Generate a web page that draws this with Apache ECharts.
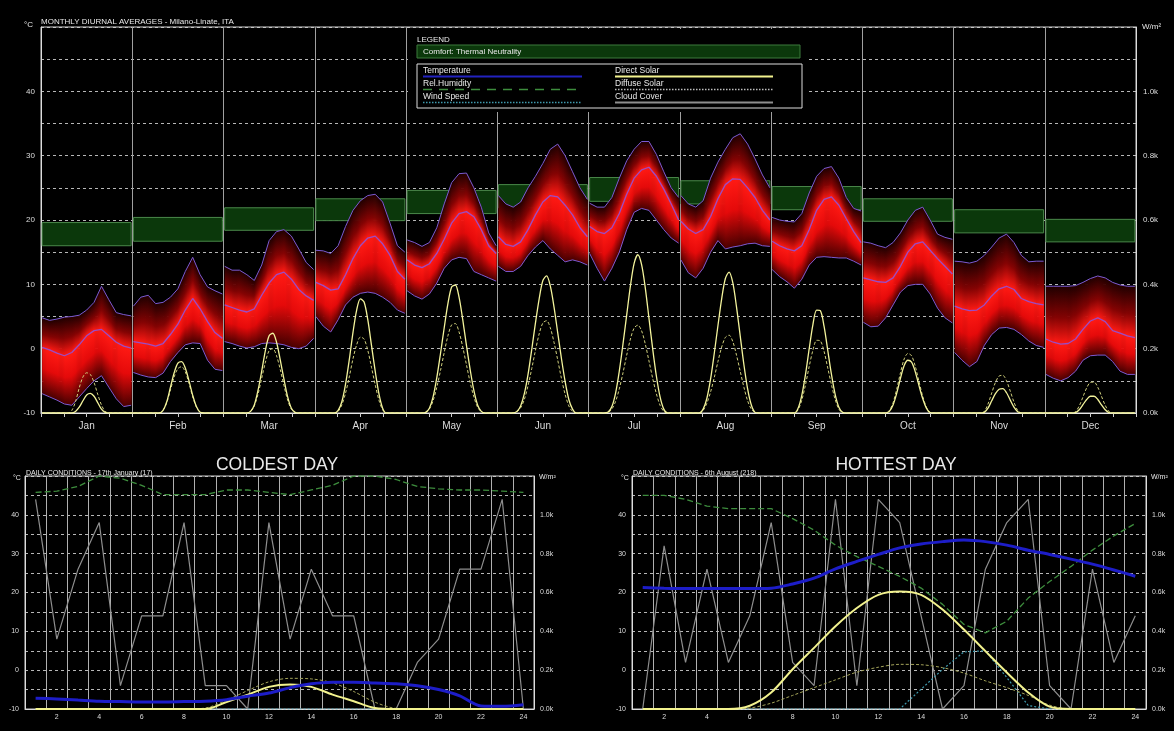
<!DOCTYPE html>
<html>
<head>
<meta charset="utf-8">
<script src="https://cdn.jsdelivr.net/npm/echarts@6/dist/echarts.min.js"></script>
<style>
html, body { margin: 0; padding: 0; background: #000; }
#chart { width: 1174px; height: 731px; }
</style>
</head>
<body>
<div id="chart"></div>
<script>
// monthly diurnal averages, values every 2 hours (0,2,...,24)
var months = ['Jan', 'Feb', 'Mar', 'Apr', 'May', 'Jun', 'Jul', 'Aug', 'Sep', 'Oct', 'Nov', 'Dec'];
var tMax = [
    [4.8, 4.4, 4.6, 4.9, 5.0, 5.2, 6.0, 7.2, 9.7, 7.6, 5.6, 5.3, 5.1],
    [6.6, 8.0, 8.3, 7.0, 7.2, 8.0, 9.3, 12.0, 14.2, 11.5, 9.6, 9.0, 8.5],
    [12.8, 12.2, 12.2, 11.5, 10.6, 13.0, 16.8, 18.2, 18.5, 17.5, 15.5, 13.4, 12.3],
    [15.3, 15.2, 14.8, 16.0, 19.0, 21.5, 23.0, 23.8, 24.0, 22.8, 19.5, 16.0, 15.0],
    [16.9, 16.5, 15.9, 16.5, 18.8, 22.5, 25.8, 27.2, 27.3, 25.0, 22.0, 18.0, 16.0],
    [23.8, 22.5, 22.0, 22.8, 25.0, 26.8, 28.8, 31.0, 31.8, 30.0, 27.5, 25.0, 23.2],
    [22.6, 22.0, 22.0, 23.5, 26.5, 29.2, 31.0, 32.2, 32.2, 30.2, 27.5, 25.0, 23.5],
    [23.8, 22.5, 22.0, 23.0, 26.5, 29.0, 31.0, 32.8, 33.4, 31.8, 29.5, 27.0, 25.0],
    [20.4, 20.0, 19.8, 19.7, 21.0, 24.2, 26.8, 28.0, 28.3, 26.5, 23.5, 21.8, 21.4],
    [16.6, 16.4, 16.0, 15.7, 16.5, 18.0, 20.0, 21.5, 22.0, 20.0, 17.8, 17.3, 17.0],
    [13.6, 13.5, 13.3, 13.6, 14.5, 15.8, 17.2, 17.8, 16.5, 14.5, 13.5, 13.6, 13.6],
    [9.7, 9.7, 9.7, 9.7, 9.8, 10.3, 10.9, 11.3, 11.0, 10.3, 9.9, 9.7, 9.7]
];
var tMean = [
    [0.2, -0.2, -0.7, -1.1, -0.6, 0.6, 2.0, 2.8, 3.0, 2.0, 1.0, 0.4, 0.1],
    [1.1, 0.9, 0.7, 0.4, 0.8, 2.2, 3.8, 6.0, 7.8, 6.2, 4.2, 2.5, 1.6],
    [6.8, 6.4, 6.0, 5.7, 6.2, 8.3, 10.2, 11.5, 11.9, 10.8, 9.2, 8.2, 7.5],
    [10.3, 9.8, 9.1, 9.3, 11.5, 14.0, 16.0, 17.2, 17.5, 16.3, 14.5, 12.0, 10.8],
    [13.8, 13.0, 12.6, 13.2, 14.8, 17.0, 19.5, 21.0, 21.3, 20.5, 18.5, 16.0, 14.8],
    [17.4, 16.2, 15.9, 16.6, 18.5, 20.8, 22.8, 23.8, 23.6, 22.3, 20.8, 18.8, 17.4],
    [19.0, 18.2, 17.9, 18.8, 21.0, 24.0, 26.5, 27.8, 28.2, 26.8, 24.8, 22.5, 20.0],
    [19.8, 18.6, 17.9, 18.5, 20.5, 23.3, 25.5, 26.4, 26.3, 25.0, 23.5, 21.5, 20.0],
    [16.7, 16.0, 15.5, 15.2, 16.0, 18.5, 21.5, 23.2, 23.6, 22.3, 20.2, 18.2, 16.5],
    [11.0, 10.7, 10.4, 10.3, 11.0, 12.8, 15.0, 16.3, 16.6, 15.3, 14.0, 12.8, 11.6],
    [6.6, 6.2, 5.9, 6.0, 6.8, 8.2, 9.3, 9.7, 9.2, 7.8, 7.3, 7.0, 6.8],
    [1.5, 1.0, 0.7, 0.8, 1.5, 3.0, 4.3, 4.8, 4.2, 2.8, 2.4, 2.0, 1.7]
];
var tMin = [
    [-7.0, -7.5, -8.0, -8.6, -8.8, -7.5, -6.2, -5.0, -4.2, -6.0, -7.8, -9.0, -8.8],
    [-3.7, -4.1, -4.4, -4.5, -3.8, -2.0, -0.6, 0.6, 0.9, 0.8, -1.8, -3.2, -3.4],
    [1.1, 0.8, 0.4, 0.1, 0.3, 0.8, 0.9, 0.8, 0.6, 0.2, 0.0, 0.4, 1.6],
    [5.0, 3.5, 2.6, 4.5, 6.8, 8.0, 8.6, 8.8, 8.6, 8.0, 7.2, 6.0, 5.5],
    [9.0, 8.2, 7.7, 8.5, 10.2, 12.5, 13.8, 14.2, 14.0, 12.0, 11.5, 11.0, 10.5],
    [12.8, 12.0, 12.0, 12.8, 14.5, 15.8, 16.8, 15.5, 14.5, 13.5, 13.8, 13.5, 13.0],
    [14.8, 12.5, 10.5, 12.5, 15.0, 18.5, 21.2, 21.8, 21.5, 20.0, 18.5, 17.2, 16.4],
    [13.8, 11.8, 11.0, 12.5, 15.0, 16.8, 15.5, 15.8, 16.0, 16.3, 16.4, 16.0, 15.9],
    [12.3, 11.2, 10.4, 9.4, 10.8, 13.0, 14.2, 14.3, 14.2, 14.1, 14.1, 13.6, 13.0],
    [4.1, 3.4, 3.5, 4.8, 6.8, 8.8, 9.8, 10.0, 10.0, 8.5, 6.3, 4.8, 4.0],
    [-0.6, -1.8, -2.8, -2.0, 0.5, 2.2, 3.2, 3.3, 3.0, 2.2, 1.2, 0.5, 0.2],
    [-4.0, -4.6, -5.0, -4.5, -3.5, -1.8, -1.1, -1.0, -1.0, -2.0, -3.5, -4.0, -4.0]
];
var comfortLow = [16.0, 16.7, 18.4, 19.9, 21.0, 21.9, 22.9, 22.5, 21.6, 19.8, 18.0, 16.6];
var comfortHigh = [19.6, 20.4, 21.9, 23.3, 24.6, 25.5, 26.6, 26.1, 25.2, 23.3, 21.6, 20.1];

// hourly solar radiation (W/m2), hours 0..24
var directSolar = [
    [0,0,0,0,0,0,0,0, 0,5,18,38,56,61,52,32,12,2, 0,0,0,0,0,0,0],
    [0,0,0,0,0,0,0,0, 8,35,80,125,155,160,140,100,55,20,2, 0,0,0,0,0,0],
    [0,0,0,0,0,0,0, 5,25,70,130,195,240,248,220,165,105,50,15,2, 0,0,0,0,0],
    [0,0,0,0,0,0, 8,35,90,165,250,320,355,345,290,210,130,60,15, 0,0,0,0,0,0],
    [0,0,0,0,0, 2,15,50,110,185,265,340,392,398,360,290,210,135,70,25,5, 0,0,0,0],
    [0,0,0,0,0, 5,22,60,120,198,280,355,412,426,395,330,250,170,98,42,12, 0,0,0,0],
    [0,0,0,0,0, 3,20,62,130,215,305,395,465,492,462,390,295,200,115,50,12, 0,0,0,0],
    [0,0,0,0,0,0, 12,45,105,185,272,355,418,438,405,330,240,150,75,25,2, 0,0,0,0],
    [0,0,0,0,0,0,0, 15,55,120,200,275,320,318,270,195,120,58,18,2, 0,0,0,0,0],
    [0,0,0,0,0,0,0, 5,25,62,108,148,164,158,128,85,45,15,1, 0,0,0,0,0,0],
    [0,0,0,0,0,0,0,0, 2,15,38,60,74,76,63,40,18,4, 0,0,0,0,0,0,0],
    [0,0,0,0,0,0,0,0, 1,10,26,42,52,52,42,25,10,1, 0,0,0,0,0,0,0]
];
var diffuseSolar = [
    [0,0,0,0,0,0,0,0, 8,35,78,112,125,120,95,58,25,5, 0,0,0,0,0,0,0],
    [0,0,0,0,0,0,0,0, 8,32,72,112,138,144,128,92,50,18,2, 0,0,0,0,0,0],
    [0,0,0,0,0,0,0, 5,22,58,108,158,194,200,178,135,85,40,12,2, 0,0,0,0,0],
    [0,0,0,0,0,0, 5,25,62,112,168,212,236,230,195,142,88,40,10, 0,0,0,0,0,0],
    [0,0,0,0,0, 2,12,38,80,132,188,240,274,278,252,205,150,95,50,18,4, 0,0,0,0],
    [0,0,0,0,0, 4,16,42,85,138,195,246,280,287,265,220,165,108,58,22,5, 0,0,0,0],
    [0,0,0,0,0, 2,12,36,75,125,180,230,264,273,256,215,162,108,60,24,5, 0,0,0,0],
    [0,0,0,0,0,0, 8,30,65,110,160,205,235,242,222,180,130,80,38,12,2, 0,0,0,0],
    [0,0,0,0,0,0,0, 10,40,88,145,195,226,224,192,140,88,42,12,1, 0,0,0,0,0],
    [0,0,0,0,0,0,0, 8,32,75,125,168,185,178,145,98,52,18,2, 0,0,0,0,0,0],
    [0,0,0,0,0,0,0,0, 5,28,62,95,115,117,100,68,34,8, 0,0,0,0,0,0,0],
    [0,0,0,0,0,0,0,0, 4,22,50,78,95,96,80,52,24,5, 0,0,0,0,0,0,0]
];

// daily conditions, hours 1..24
var dayHours = ['1','2','3','4','5','6','7','8','9','10','11','12','13','14','15','16','17','18','19','20','21','22','23','24'];
var coldTemp = [-7.2, -7.4, -7.7, -8.0, -8.1, -8.2, -8.2, -8.1, -8.0, -7.6, -6.7, -5.9, -4.5, -3.5, -3.1, -3.1, -3.3, -3.5, -4.0, -5.0, -6.6, -9.2, -9.3, -8.9];
var coldHumidity = [93, 93.5, 95.5, 100, 99, 96, 92, 92, 92, 94, 94, 93, 92, 94, 96, 100, 100, 98.5, 95.5, 94.5, 94, 94, 93.5, 93];
var coldWind = [0,0,0,0,0,0,0,0,0,0,0,0,0,0,0,0,0,0,0,0,0,0,0,0];
var coldCloud = [9, 3, 6, 8, 1, 4, 4, 8, 1, 1, 0, 8, 3, 6, 4, 4, 0, 0, 2, 3, 6, 6, 9, 0];
var coldDirect = [0,0,0,0,0,0,0,0,0,36,74,114,126,114,74,40,5,0,0,0,0,0,0,0];
var coldDiffuse = [0,0,0,0,0,0,0,0,5,45,95,140,158,155,135,90,35,3,0,0,0,0,0,0];

var hotTemp = [21.3, 21.1, 21.0, 21.0, 21.0, 21.0, 21.1, 22.2, 23.7, 26.1, 28.0, 29.8, 31.5, 32.5, 33.1, 33.5, 33.1, 32.2, 30.9, 29.8, 28.6, 27.3, 25.8, 24.2];
var hotHumidity = [91.7, 91.7, 90, 87.1, 86, 86, 86, 81.7, 76.8, 70.3, 65.4, 61.2, 56.9, 51.9, 44.9, 36.3, 32.7, 37.7, 47.6, 54.7, 61.2, 68.2, 74.3, 79.6];
var hotWind = [0,0,0,0,0,0,0,0,0,0,0,0,0, 1.7, 3.4, 4.9, 5.0, 2.7, 0.3, 0,0,0,0,0];
var hotCloud = [0, 7, 2, 6, 2, 4, 8, 2, 1, 9, 1, 9, 8, 4, 0, 1, 6, 8, 9, 1, 0, 6, 2, 4];
var hotDirect = [0,0,0,0,0,17,85,205,315,426,520,588,605,588,512,409,298,188,85,12,0,0,0,0];
var hotDiffuse = [0,0,0,0,0,5,30,70,110,150,190,215,230,228,213,185,145,110,70,20,0,0,0,0];

var FONT = '"Liberation Sans", Arial, sans-serif';
var TXT = '#dcdcdc';
var DASH = 'rgba(215,215,215,0.85)';

// month m, hour h -> position on the 0..288 axis (small gap at the month lines)
function hourX(m, h) { return m * 24 + 0.3 + h * 0.975; }

var bandSegs = [], maxPts = [], meanPts = [], minPts = [], comfortData = [];
var directPts = [], diffusePts = [];
months.forEach(function (name, m) {
    for (var i = 0; i < 13; i++) {
        var x = hourX(m, i * 2);
        maxPts.push([x, tMax[m][i]]);
        meanPts.push([x, tMean[m][i]]);
        minPts.push([x, tMin[m][i]]);
        if (i < 12) {
            bandSegs.push([x, hourX(m, i * 2 + 2), tMax[m][i], tMax[m][i + 1],
                tMean[m][i], tMean[m][i + 1], tMin[m][i], tMin[m][i + 1], i]);
        }
    }
    maxPts.push([m * 24 + 24, '-']);
    meanPts.push([m * 24 + 24, '-']);
    minPts.push([m * 24 + 24, '-']);
    comfortData.push([m, comfortLow[m], comfortHigh[m]]);
    for (var h = 0; h <= 24; h++) {
        directPts.push([hourX(m, h), directSolar[m][h]]);
        diffusePts.push([hourX(m, h), diffuseSolar[m][h]]);
    }
});

function lerp(p, q, t) { return p + (q - p) * t; }

// one band segment (between two readings) painted as 1px strips so the
// vertical colour profile follows the min / mean / max edges smoothly
function renderBand(params, api) {
    var a = api.coord([api.value(0), api.value(2)]);
    var b = api.coord([api.value(1), api.value(3)]);
    var c = api.coord([api.value(1), api.value(7)]);
    var d = api.coord([api.value(0), api.value(6)]);
    var m0 = api.coord([api.value(0), api.value(4)]);
    var m1 = api.coord([api.value(1), api.value(5)]);
    var n = Math.max(1, Math.round(b[0] - a[0]));
    var kids = [];
    for (var k = 0; k < n; k++) {
        var t0 = k / n, t1 = (k + 1) / n, tc = (t0 + t1) / 2;
        var x0 = lerp(a[0], b[0], t0), x1 = lerp(a[0], b[0], t1) + 0.6;
        var top = lerp(a[1], b[1], tc), bot = lerp(d[1], c[1], tc), mid = lerp(m0[1], m1[1], tc);
        var r = Math.min(0.95, Math.max(0.05, (mid - top) / (bot - top)));
        var grad = new echarts.graphic.LinearGradient(0, top, 0, bot, [
            { offset: 0, color: '#200000' },
            { offset: r * 0.55, color: '#840303' },
            { offset: r, color: '#ff1a14' },
            { offset: r + (1 - r) * 0.45, color: '#e50a0a' },
            { offset: 1, color: '#480000' }
        ], true);
        kids.push({
            type: 'polygon',
            shape: { points: [
                [x0, lerp(a[1], b[1], t0)], [x1, lerp(a[1], b[1], t1)],
                [x1, lerp(d[1], c[1], t1)], [x0, lerp(d[1], c[1], t0)]
            ] },
            style: { fill: grad }
        });
    }
    return { type: 'group', children: kids };
}

function renderComfort(params, api) {
    var m = api.value(0);
    var p0 = api.coord([m * 24 + 0.3, api.value(2)]);
    var p1 = api.coord([m * 24 + 23.7, api.value(1)]);
    return {
        type: 'rect',
        shape: { x: p0[0], y: p0[1], width: p1[0] - p0[0], height: p1[1] - p0[1] },
        style: { fill: '#0b380b', stroke: '#4a884a', lineWidth: 1 }
    };
}

function tempLabel(v) { return (v % 10 === 0 && v < 50) ? v : ''; }
function solarLabel(v) { return v >= 1200 ? '' : (v / 1000).toFixed(1) + 'k'; }

var xAxes = [
    { gridIndex: 0, type: 'value', min: 0, max: 288, interval: 24, position: 'bottom',
      axisLine: { show: false, onZero: false }, axisTick: { show: false }, axisLabel: { show: false },
      splitLine: { show: true, lineStyle: { color: '#a0a0a0', width: 1 } } },
    { gridIndex: 0, type: 'value', min: 0, max: 288, interval: 6, position: 'bottom',
      axisLine: { onZero: false, lineStyle: { color: '#e6e6e6' } },
      axisTick: { length: 4, lineStyle: { color: '#cccccc' } }, axisLabel: { show: false },
      splitLine: { show: false } },
    { gridIndex: 0, type: 'category', data: months, position: 'bottom', boundaryGap: true,
      axisLine: { show: false, onZero: false }, axisTick: { show: false },
      axisLabel: { color: TXT, fontSize: 10, fontFamily: FONT, margin: 8 }, splitLine: { show: false } }
];
var yAxes = [
    { gridIndex: 0, type: 'value', min: -10, max: 50, interval: 5, position: 'left',
      axisLine: { show: true, onZero: false, lineStyle: { color: '#dddddd' } }, axisTick: { show: false },
      axisLabel: { color: TXT, fontSize: 8, fontFamily: FONT, margin: 6, formatter: tempLabel },
      splitLine: { lineStyle: { color: DASH, type: [3, 3] } } },
    { gridIndex: 0, type: 'value', min: 0, max: 1200, interval: 200, position: 'right',
      axisLine: { show: true, onZero: false, lineStyle: { color: '#dddddd' } }, axisTick: { show: false },
      axisLabel: { color: TXT, fontSize: 8, fontFamily: FONT, margin: 7, formatter: solarLabel },
      splitLine: { show: false } }
];

function dayAxes(gi) {
    xAxes.push({
        gridIndex: gi, type: 'category', data: dayHours, boundaryGap: true, position: 'bottom',
        axisLine: { onZero: false, lineStyle: { color: '#dddddd' } }, axisTick: { show: false },
        axisLabel: { color: TXT, fontSize: 7, fontFamily: FONT, margin: 5,
                     interval: function (i) { return i % 2 === 1; } },
        splitLine: { show: true, interval: 0, lineStyle: { color: '#b0b0b0', width: 1 } }
    });
    yAxes.push(
        { gridIndex: gi, type: 'value', min: -10, max: 50, interval: 5, position: 'left',
          axisLine: { show: true, onZero: false, lineStyle: { color: '#dddddd' } }, axisTick: { show: false },
          axisLabel: { color: TXT, fontSize: 7, fontFamily: FONT, margin: 6, formatter: tempLabel },
          splitLine: { lineStyle: { color: DASH, type: [3, 3] } } },
        { gridIndex: gi, type: 'value', min: 0, max: 1200, interval: 200, position: 'right',
          axisLine: { show: true, onZero: false, lineStyle: { color: '#dddddd' } }, axisTick: { show: false },
          axisLabel: { color: TXT, fontSize: 7, fontFamily: FONT, margin: 6, formatter: solarLabel },
          splitLine: { show: false } },
        { gridIndex: gi, type: 'value', min: 0, max: 100, show: false },
        { gridIndex: gi, type: 'value', min: 0, max: 10, show: false },
        { gridIndex: gi, type: 'value', min: 0, max: 20, show: false }
    );
}
dayAxes(1);
dayAxes(2);

function daySeries(xi, yBase, temp, hum, wind, cloud, direct, diffuse) {
    var base = { type: 'line', xAxisIndex: xi, symbol: 'none', silent: true };
    return [
        Object.assign({}, base, { yAxisIndex: yBase + 3, data: cloud, z: 3,
            lineStyle: { color: '#8e8e8e', width: 1.2 } }),
        Object.assign({}, base, { yAxisIndex: yBase + 2, data: hum, z: 4,
            lineStyle: { color: '#3d8d3d', width: 1.3, type: [6, 3] } }),
        Object.assign({}, base, { yAxisIndex: yBase + 4, data: wind, z: 4,
            lineStyle: { color: '#3f9aae', width: 1.2, type: [2, 2] } }),
        Object.assign({}, base, { yAxisIndex: yBase + 1, data: diffuse, z: 5, smooth: 0.3,
            lineStyle: { color: '#a4a45a', width: 1, type: [3, 2] } }),
        Object.assign({}, base, { yAxisIndex: yBase + 1, data: direct, z: 6, smooth: 0.3,
            lineStyle: { color: '#f2f28e', width: 2 } }),
        Object.assign({}, base, { yAxisIndex: yBase, data: temp, z: 7, smooth: 0.3,
            lineStyle: { color: '#1d1dc8', width: 3 } })
    ];
}

function txt(x, y, text, size, align) {
    return {
        type: 'text', x: x, y: y, z: 100,
        style: { text: text, fill: '#e8e8e8', font: size + 'px ' + FONT,
                 textAlign: align || 'left', textVerticalAlign: 'middle' }
    };
}
function seg(x1, x2, y, color, width, dash) {
    return { type: 'line', z: 100, shape: { x1: x1, y1: y, x2: x2, y2: y },
             style: { stroke: color, lineWidth: width, lineDash: dash || null } };
}

var graphics = [
    txt(41, 22, 'MONTHLY DIURNAL AVERAGES - Milano-Linate, ITA', 8),
    txt(24, 25, '°C', 8),
    txt(1142, 27, 'W/m²', 8),
    // legend
    { type: 'rect', z: 99, shape: { x: 408, y: 29, width: 398, height: 83 }, style: { fill: '#000' } },
    txt(417, 40, 'LEGEND', 8),
    { type: 'rect', z: 100, shape: { x: 417, y: 45, width: 383, height: 13 },
      style: { fill: '#0b380b', stroke: '#3d7a3d', lineWidth: 1 } },
    txt(423, 51.5, 'Comfort: Thermal Neutrality', 8),
    { type: 'rect', z: 100, shape: { x: 417, y: 64, width: 385, height: 44 },
      style: { fill: '#000', stroke: '#dddddd', lineWidth: 1 } },
    txt(423, 71, 'Temperature', 8.5),
    seg(423, 582, 76.5, '#2222c0', 2),
    txt(423, 84, 'Rel.Humidity', 8.5),
    seg(423, 582, 89.5, '#3d8d3d', 1.5, [9, 7]),
    txt(423, 97, 'Wind Speed', 8.5),
    seg(423, 582, 102.5, '#3f9aae', 1.5, [1.5, 1.5]),
    txt(615, 71, 'Direct Solar', 8.5),
    seg(615, 773, 76.5, '#f2f28e', 2),
    txt(615, 84, 'Diffuse Solar', 8.5),
    seg(615, 773, 89.5, '#bdbdbd', 1.3, [1.5, 1.5]),
    txt(615, 97, 'Cloud Cover', 8.5),
    seg(615, 773, 102.5, '#8e8e8e', 2),
    // daily panels
    txt(277, 465, 'COLDEST DAY', 17.5, 'center'),
    txt(896, 465, 'HOTTEST DAY', 17.5, 'center'),
    txt(26, 473, 'DAILY CONDITIONS - 17th January (17)', 7),
    txt(633, 473, 'DAILY CONDITIONS - 6th August (218)', 7),
    txt(13, 478, '°C', 7),
    txt(621, 478, '°C', 7),
    txt(539, 477, 'W/m²', 7),
    txt(1151, 477, 'W/m²', 7)
];

var series = [
    { type: 'custom', xAxisIndex: 0, yAxisIndex: 0, data: comfortData, renderItem: renderComfort,
      encode: { x: 0, y: [1, 2] }, silent: true, z: 1, clip: true },
    { type: 'custom', xAxisIndex: 0, yAxisIndex: 0, data: bandSegs, renderItem: renderBand,
      encode: { x: [0, 1], y: [2, 3, 6, 7] }, silent: true, z: 2, clip: true },
    { type: 'line', xAxisIndex: 0, yAxisIndex: 0, data: maxPts, symbol: 'none', silent: true, z: 3,
      lineStyle: { color: '#7b5ad2', width: 1 } },
    { type: 'line', xAxisIndex: 0, yAxisIndex: 0, data: minPts, symbol: 'none', silent: true, z: 3,
      lineStyle: { color: '#7b5ad2', width: 1 } },
    { type: 'line', xAxisIndex: 0, yAxisIndex: 0, data: meanPts, symbol: 'none', silent: true, z: 3,
      lineStyle: { color: '#9a4cc6', width: 1.3 } },
    { type: 'line', xAxisIndex: 0, yAxisIndex: 1, data: diffusePts, symbol: 'none', silent: true, z: 4,
      smooth: 0.3, lineStyle: { color: '#cfcf7c', width: 1, type: [3, 2] } },
    { type: 'line', xAxisIndex: 0, yAxisIndex: 1, data: directPts, symbol: 'none', silent: true, z: 4,
      smooth: 0.3, lineStyle: { color: '#f4f49c', width: 1.3 } }
].concat(
    daySeries(3, 2, coldTemp, coldHumidity, coldWind, coldCloud, coldDirect, coldDiffuse),
    daySeries(4, 7, hotTemp, hotHumidity, hotWind, hotCloud, hotDirect, hotDiffuse)
);

var chart = echarts.init(document.getElementById('chart'));
chart.setOption({
    backgroundColor: '#000',
    animation: false,
    textStyle: { fontFamily: FONT },
    grid: [
        { left: 41, right: 38, top: 27, bottom: 318, show: true, borderColor: '#d0d0d0', borderWidth: 1 },
        { left: 25, right: 640, top: 476, bottom: 22, show: true, borderColor: '#d0d0d0', borderWidth: 1 },
        { left: 632, right: 28, top: 476, bottom: 22, show: true, borderColor: '#d0d0d0', borderWidth: 1 }
    ],
    xAxis: xAxes,
    yAxis: yAxes,
    graphic: { elements: graphics },
    series: series
});
</script>
</body>
</html>
